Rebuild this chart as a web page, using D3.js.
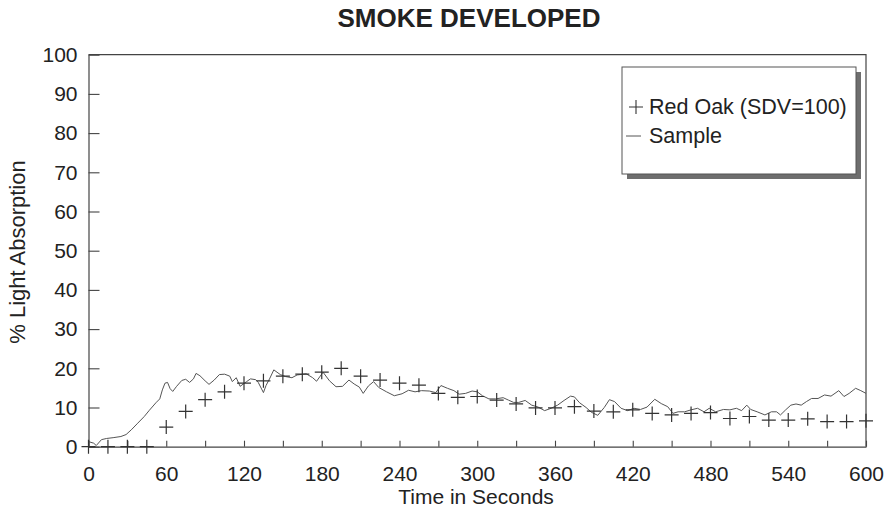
<!DOCTYPE html>
<html>
<head>
<meta charset="utf-8">
<script src="https://cdn.jsdelivr.net/npm/d3@7"></script>
<style>
  html, body { margin: 0; padding: 0; background: #fff; }
  svg { display: block; }
  text { font-family: "Liberation Sans", Arial, sans-serif; fill: #222; }
</style>
</head>
<body>
<svg id="chart" width="884" height="512"></svg>
<script>
// Reference material: Red Oak readings every 15 s
const oakTime = [0, 15, 30, 45, 60, 75, 90, 105, 120, 135, 150, 165, 180, 195, 210, 225, 240, 255, 270, 285,
  300, 315, 330, 345, 360, 375, 390, 405, 420, 435, 450, 465, 480, 495, 510, 525, 540, 555, 570, 585, 600];
const oakValue = [0, 0, 0, 0, 5, 9, 12, 14, 16.2, 16.8, 18, 18.5, 19, 20, 18, 17, 16.2, 15.7, 13.6, 12.6,
  12.8, 11.9, 10.9, 9.9, 9.9, 10.2, 9.1, 8.9, 9.4, 8.5, 8.1, 8.5, 8.7, 7.2, 7.7, 6.8, 6.8, 7.1, 6.4, 6.4, 6.6];

// Sample trace (seconds, % light absorption)
const sampleTime = [0, 4, 6, 10, 14, 19, 25, 29, 33, 38, 43, 47, 52, 55, 57, 59, 61, 63, 65, 68,
  72, 75, 78, 81, 83, 86, 90, 93, 97, 101, 105, 109, 111, 114, 117, 122, 125, 129, 131, 135,
  137, 140, 143, 148, 152, 157, 161, 168, 173, 176, 181, 186, 191, 196, 201, 205, 209, 212, 216, 220,
  224, 230, 236, 242, 247, 252, 257, 263, 268, 272, 277, 282, 286, 291, 296, 300, 304, 309, 314, 320,
  324, 328, 332, 337, 342, 347, 352, 357, 362, 367, 372, 375, 379, 384, 388, 393, 398, 402, 406, 411,
  416, 421, 426, 431, 437, 442, 447, 451, 455, 460, 465, 470, 475, 479, 484, 490, 495, 500, 504, 508,
  511, 516, 522, 527, 531, 534, 538, 542, 546, 550, 554, 558, 563, 568, 573, 579, 583, 587, 592, 596, 600];
const sampleValue = [1.3, 0.9, 0.3, 1.8, 2.1, 2.3, 2.6, 3.1, 4.3, 6.0, 7.7, 9.3, 11.2, 12.2, 14.5, 16.2, 16.4, 14.8, 14.1, 15.4,
  16.9, 17.2, 16.4, 17.3, 18.7, 18.1, 16.8, 15.9, 17.0, 18.4, 18.5, 18.0, 16.6, 17.6, 15.4, 16.6, 17.3, 17.1, 16.4, 13.8,
  15.6, 17.5, 19.6, 18.4, 17.9, 17.6, 18.3, 18.6, 17.6, 16.7, 19.0, 16.8, 15.3, 15.4, 17.0, 16.0, 15.2, 13.6, 15.5, 16.6,
  15.1, 14.0, 13.0, 13.5, 14.4, 14.0, 14.3, 14.2, 13.8, 15.6, 14.9, 14.3, 13.4, 13.6, 14.2, 14.0, 13.0, 12.2, 12.2, 12.5,
  11.9, 11.3, 11.3, 11.8, 10.6, 10.1, 9.2, 9.8, 10.6, 11.8, 12.9, 12.7, 11.2, 10.0, 8.8, 8.0, 10.0, 12.0, 11.5, 9.8,
  9.2, 9.8, 9.5, 10.1, 12.1, 11.0, 10.2, 8.5, 8.9, 8.9, 9.4, 9.8, 8.9, 9.8, 8.9, 9.5, 9.4, 9.8, 9.2, 10.6,
  9.5, 8.9, 8.1, 8.9, 8.9, 8.1, 9.4, 10.6, 10.9, 10.6, 11.5, 12.3, 12.3, 13.2, 12.9, 14.3, 12.8, 13.6, 14.9, 14.3, 13.6];

const xTicks = [0, 30, 60, 90, 120, 150, 180, 210, 240, 270, 300, 330, 360, 390, 420, 450, 480, 510, 540, 570, 600];
const yTicks = [0, 10, 20, 30, 40, 50, 60, 70, 80, 90, 100];

const titleText = "SMOKE DEVELOPED";
const xTitle = "Time in Seconds";
const yTitle = "% Light Absorption";
const legendLabels = ["Red Oak (SDV=100)", "Sample"];

const svg = d3.select("#chart");
const ink = "#444";

const x = d3.scaleLinear().domain([0, 600]).range([88.5, 866]);
const y = d3.scaleLinear().domain([0, 100]).range([446.7, 54.7]);

// Title
svg.append("text")
  .attr("x", 469).attr("y", 27)
  .attr("text-anchor", "middle")
  .style("font-weight", "bold")
  .style("font-size", "26px")
  .text(titleText);

// Frame: top and right borders
svg.append("path")
  .attr("d", `M${x(0)},${y(100)}H${x(600)}V${y(0)}`)
  .attr("fill", "none").attr("stroke", ink).attr("stroke-width", 1.2);

// Bottom axis, ticks pointing inward
const gx = svg.append("g").attr("transform", `translate(0,${y(0)})`)
  .call(d3.axisBottom(x).tickValues(xTicks).tickSizeInner(-6).tickSizeOuter(0)
    .tickPadding(19).tickFormat(d => d % 60 === 0 ? d : ""));
gx.select(".domain").attr("stroke", ink).attr("stroke-width", 1.2);
gx.selectAll(".tick line").attr("stroke", ink).attr("stroke-width", 1.1);
gx.selectAll(".tick text").style("font-size", "21px").attr("fill", "#222").style("font-family", "Liberation Sans, Arial, sans-serif");

// Left axis, ticks pointing inward
const gy = svg.append("g").attr("transform", `translate(${x(0)},0)`)
  .call(d3.axisLeft(y).tickValues(yTicks).tickSizeInner(-11).tickSizeOuter(0).tickPadding(11));
gy.select(".domain").attr("stroke", ink).attr("stroke-width", 1.2);
gy.selectAll(".tick line").attr("stroke", ink).attr("stroke-width", 1.1);
gy.selectAll(".tick text").style("font-size", "21px").attr("fill", "#222").style("font-family", "Liberation Sans, Arial, sans-serif");

// Axis titles
svg.append("text")
  .attr("x", 476).attr("y", 504)
  .attr("text-anchor", "middle")
  .style("font-size", "21px")
  .text(xTitle);

svg.append("text")
  .attr("transform", "translate(25,252) rotate(-90)")
  .attr("text-anchor", "middle")
  .style("font-size", "22px")
  .text(yTitle);

// Sample line
const sampleData = sampleTime.map((t, i) => [t, sampleValue[i]]);
svg.append("path")
  .datum(sampleData)
  .attr("fill", "none")
  .attr("stroke", "#555")
  .attr("stroke-width", 1)
  .attr("stroke-linejoin", "round")
  .attr("d", d3.line().x(d => x(d[0])).y(d => y(d[1])).curve(d3.curveLinear));

// Red Oak crosses
const crossHalf = 7;
const crossPath = `M${-crossHalf},0H${crossHalf}M0,${-crossHalf}V${crossHalf}`;
svg.append("g").selectAll("path")
  .data(oakTime.map((t, i) => [t, oakValue[i]]))
  .join("path")
  .attr("transform", d => `translate(${x(d[0])},${y(d[1])})`)
  .attr("d", crossPath)
  .attr("stroke", "#333")
  .attr("stroke-width", 1.2)
  .attr("fill", "none");

// Legend with drop shadow
const lg = svg.append("g").attr("transform", "translate(622,67)");
const lw = 234, lh = 107, sh = 5;
lg.append("rect").attr("x", sh).attr("y", sh).attr("width", lw).attr("height", lh).attr("fill", "#6e6e6e");
lg.append("rect").attr("x", 0).attr("y", 0).attr("width", lw).attr("height", lh)
  .attr("fill", "#fff").attr("stroke", "#555").attr("stroke-width", 1);
lg.append("path").attr("transform", "translate(14,40)").attr("d", crossPath)
  .attr("stroke", "#333").attr("stroke-width", 1.1);
lg.append("line").attr("x1", 4).attr("x2", 19).attr("y1", 69).attr("y2", 69)
  .attr("stroke", "#555").attr("stroke-width", 1);
lg.append("text").attr("x", 27).attr("y", 47).style("font-size", "21.5px").text(legendLabels[0]);
lg.append("text").attr("x", 27).attr("y", 76).style("font-size", "21.5px").text(legendLabels[1]);
</script>
</body>
</html>
